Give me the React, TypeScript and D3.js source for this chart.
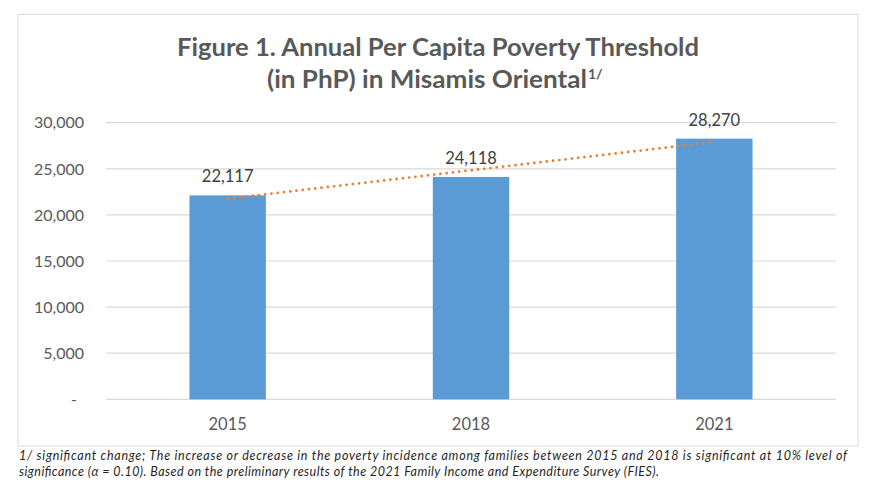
import React from "react";
import * as d3 from "d3";

const categories = ["2015", "2018", "2021"];
const values = [22117, 24118, 28270];
const yTicks = [0, 5000, 10000, 15000, 20000, 25000, 30000];
const titleLines = ["Figure 1. Annual Per Capita Poverty Threshold", "(in PhP) in Misamis Oriental"];
const titleSup = "1/";
const footnoteLines = [
  "1/ significant change; The increase or decrease in the poverty incidence among families between 2015 and 2018 is significant at 10% level of",
  "significance (\u03b1 = 0.10). Based on the preliminary results of the 2021 Family Income and Expenditure Survey (FIES).",
];

const W = 879;
const H = 487;
const FONT = "Lato, 'Open Sans', sans-serif";

export default function App() {
  const x = d3.scaleBand<string>().domain(categories).range([106, 836]).padding(0);
  const y = d3.scaleLinear().domain([0, 30000]).range([399.3, 122.7]);
  const barW = x.bandwidth() * 0.314;
  const fmt = d3.format(",");

  // linear trendline (least squares over category index)
  const xs = values.map((_, i) => i + 1);
  const mx = d3.mean(xs) as number;
  const my = d3.mean(values) as number;
  const slope =
    d3.sum(xs.map((xi, i) => (xi - mx) * (values[i] - my))) /
    d3.sum(xs.map((xi) => (xi - mx) * (xi - mx)));
  const intercept = my - slope * mx;
  const trendPts: [number, number][] = categories.map((c, i) => [
    (x(c) as number) + x.bandwidth() / 2,
    y(intercept + slope * (i + 1)),
  ]);
  const trendPath = d3.line()([trendPts[0], trendPts[trendPts.length - 1]]) as string;

  return (
    <svg
      width={W}
      height={H}
      viewBox={`0 0 ${W} ${H}`}
      style={{ position: "absolute", left: 0, top: 0, background: "#fff" }}
    >
      <rect x={0} y={0} width={W} height={H} fill="#fff" />
      <rect x={18} y={14.5} width={840} height={431.5} fill="#fff" stroke="#D9D9D9" strokeWidth={1} />

      {/* title */}
      <text
        x={438}
        y={56}
        textAnchor="middle"
        fontFamily={FONT}
        fontWeight={700}
        fontSize={24}
        fill="#595959"
        textLength={522}
        lengthAdjust="spacingAndGlyphs"
      >
        {titleLines[0]}
      </text>
      <text
        x={267}
        y={88.3}
        textAnchor="start"
        fontFamily={FONT}
        fontWeight={700}
        fontSize={24}
        fill="#595959"
        textLength={320}
        lengthAdjust="spacingAndGlyphs"
      >
        {titleLines[1]}
      </text>
      <text x={588} y={79} fontFamily={FONT} fontWeight={700} fontSize={14} fill="#595959">
        {titleSup}
      </text>

      {/* gridlines */}
      {yTicks.map((t) => (
        <line key={t} x1={106} x2={836} y1={y(t)} y2={y(t)} stroke="#D9D9D9" strokeWidth={1.2} />
      ))}

      {/* y tick labels */}
      {yTicks.map((t) => (
        <text
          key={"l" + t}
          x={t === 0 ? 74 : 84}
          y={y(t)}
          dy="0.36em"
          textAnchor={t === 0 ? "middle" : "end"}
          fontFamily={FONT}
          fontSize={16}
          fill="#595959"
        >
          {t === 0 ? "-" : fmt(t)}
        </text>
      ))}

      {/* bars */}
      {categories.map((c, i) => (
        <rect
          key={c}
          x={(x(c) as number) + (x.bandwidth() - barW) / 2}
          y={y(values[i])}
          width={barW}
          height={y(0) - y(values[i])}
          fill="#5B9BD5"
        />
      ))}

      {/* trendline */}
      <path
        d={trendPath}
        fill="none"
        stroke="#ED7D31"
        strokeWidth={2.8}
        strokeLinecap="round"
        strokeDasharray="0 6.3"
      />

      {/* data labels */}
      {categories.map((c, i) => (
        <text
          key={"v" + c}
          x={(x(c) as number) + x.bandwidth() / 2}
          y={y(values[i]) - 13}
          textAnchor="middle"
          fontFamily={FONT}
          fontSize={16.5}
          fill="#404040"
        >
          {fmt(values[i])}
        </text>
      ))}

      {/* category labels */}
      {categories.map((c) => (
        <text
          key={"c" + c}
          x={(x(c) as number) + x.bandwidth() / 2}
          y={429.5}
          textAnchor="middle"
          fontFamily={FONT}
          fontSize={16.5}
          fill="#595959"
        >
          {c}
        </text>
      ))}

      {/* footnote */}
      <text
        x={19}
        y={459.5}
        fontFamily={FONT}
        fontStyle="italic"
        fontSize={12.5}
        fill="#1f1f1f"
        textLength={828}
        lengthAdjust="spacing"
      >
        {footnoteLines[0]}
      </text>
      <text
        x={19}
        y={476}
        fontFamily={FONT}
        fontStyle="italic"
        fontSize={12.5}
        fill="#1f1f1f"
        textLength={640}
        lengthAdjust="spacing"
      >
        {footnoteLines[1]}
      </text>
    </svg>
  );
}
